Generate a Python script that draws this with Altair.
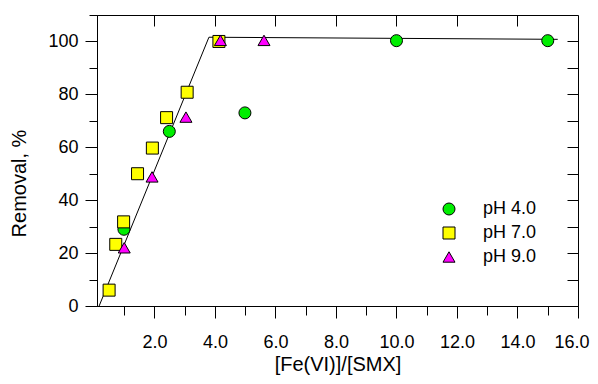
import altair as alt
import pandas as pd

# ---- data ----
series = ["pH 4.0", "pH 7.0", "pH 9.0"]
ph4_x = [0.99, 2.49, 4.99, 10.0, 15.0]
ph4_y = [29.0, 66.0, 73.0, 100.3, 100.3]
ph7_x = [0.50, 0.72, 0.98, 1.44, 1.93, 2.40, 3.08, 4.13]
ph7_y = [6.0, 23.3, 31.8, 50.0, 59.7, 71.2, 80.8, 100.0]
ph9_x = [1.00, 1.92, 3.04, 4.18, 5.62]
ph9_y = [22.0, 48.8, 71.4, 100.4, 100.4]
fit_x = [0.17, 3.80, 15.33]
fit_y = [0.0, 101.6, 100.8]

x_major = [2, 4, 6, 8, 10, 12, 14, 16]
x_minor = [1, 3, 5, 7, 9, 11, 13, 15]
x_top = [2, 4, 6, 8, 10, 12, 14]
y_major = [0, 20, 40, 60, 80, 100]
y_minor = [10, 30, 50, 70, 90, 110]
y_right = [10, 20, 30, 40, 50, 60, 70, 80, 90, 100]

rows = []
for name, xs, ys in zip(series, [ph4_x, ph7_x, ph9_x], [ph4_y, ph7_y, ph9_y]):
    for a, b in zip(xs, ys):
        rows.append({"x": a, "y": b, "series": name})
pts = pd.DataFrame(rows)
fit = pd.DataFrame({"x": fit_x, "y": fit_y})

W, H = 481, 291
FONT = "Liberation Sans"
LBL = 18
TTL = 20
xs = alt.Scale(domain=[0.1, 16], nice=False, zero=False)
ys = alt.Scale(domain=[0, 110], nice=False, zero=False)

common = dict(grid=False, domainColor="black", tickColor="black", domainWidth=1, tickWidth=1,
              labelFont=FONT, labelColor="black", titleFont=FONT, titleColor="black")

line = alt.Chart(fit).mark_line(color="black", strokeWidth=1).encode(
    x=alt.X("x:Q", scale=xs, axis=alt.Axis(
        orient="bottom", values=x_major, format=".1f", tickSize=12, labelFontSize=LBL,
        labelPadding=15, labelFlush=True, labelFlushOffset=11, labelOverlap=False,
        title="[Fe(VI)]/[SMX]", titleFontSize=TTL, titleFontWeight="normal", titleX=W / 2,
        titleY=68, titleBaseline="bottom", **common)),
    y=alt.Y("y:Q", scale=ys, axis=alt.Axis(
        orient="left", values=y_major, tickSize=12, labelFontSize=LBL, labelPadding=7,
        labelOverlap=False, labelFlush=False, title="Removal, %", titleFontSize=TTL,
        titleFontWeight="normal", titleAngle=-90, titleX=-78, titleY=168,
        titleBaseline="middle", titleAlign="center", **common)),
)

legend = alt.Legend(title=None, orient="none", legendX=343, legendY=185, symbolSize=144,
                    symbolStrokeColor="black", symbolStrokeWidth=1,
                    labelFont=FONT, labelFontSize=LBL, labelColor="black", labelOffset=25,
                    rowPadding=6, padding=0)

points = alt.Chart(pts).mark_point(filled=True, size=144, strokeWidth=1,
                                   opacity=1).encode(
    x=alt.X("x:Q", scale=xs, axis=alt.Axis(orient="bottom", values=x_minor, tickSize=9,
                                            labels=False, title=None, **common)),
    y=alt.Y("y:Q", scale=ys, axis=alt.Axis(orient="left", values=y_minor, tickSize=8,
                                            labels=False, title=None, **common)),
    fill=alt.Fill("series:N", scale=alt.Scale(domain=series,
                                              range=["#00ee00", "#ffff00", "#ff00ff"]),
                  legend=legend),
    shape=alt.Shape("series:N", scale=alt.Scale(domain=series,
                                                range=["circle", "square", "triangle-up"]),
                    legend=legend),
    stroke=alt.Stroke("series:N", scale=alt.Scale(domain=series,
                                                  range=["black", "black", "black"]),
                      legend=legend),
)

frame = alt.Chart(fit).mark_line(opacity=0).encode(
    x=alt.X("x:Q", scale=xs, axis=alt.Axis(orient="bottom", offset=-H, values=x_top,
                                            tickSize=11, labels=False, title=None, **common)),
    y=alt.Y("y:Q", scale=ys, axis=alt.Axis(orient="left", offset=-W, values=y_right,
                                            tickSize=11, labels=False, title=None, **common)),
)

chart = alt.layer(line, points, frame).resolve_axis(x="independent", y="independent").properties(
    width=W, height=H,
    autosize=alt.AutoSizeParams(type="none"),
    padding={"left": 89, "top": 7, "right": 12, "bottom": 70},
).configure_view(stroke=None).configure(background="white")

chart.save("out.html", embed_options={"renderer": "svg", "actions": False})
